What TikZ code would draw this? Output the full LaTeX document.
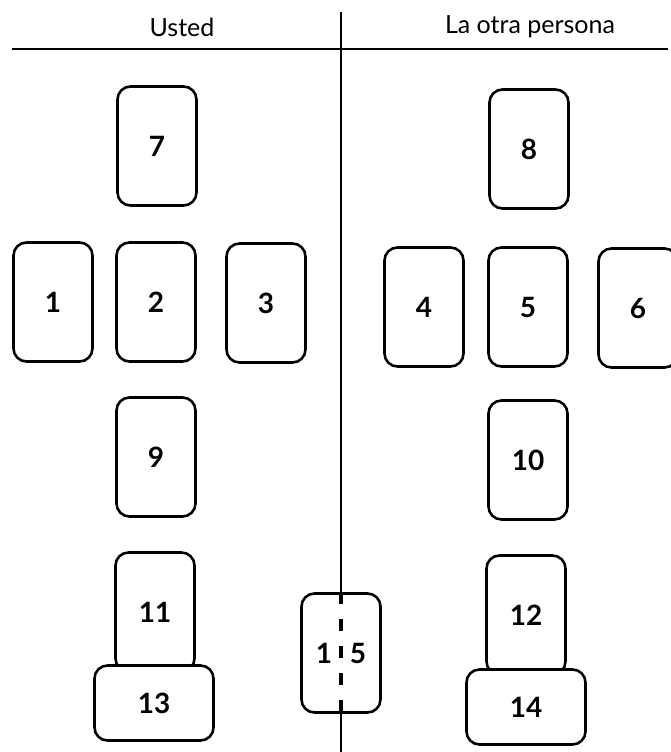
\documentclass[tikz,border=0pt]{standalone}
\usepackage{fontspec}
\setmainfont{Lato}
\usetikzlibrary{positioning}

\begin{document}
\begin{tikzpicture}[x=1pt, y=-1pt,
    card/.style={draw, line width=2.6pt, rounded corners=13pt, fill=white,
      minimum width=79pt, minimum height=119pt, inner sep=0pt,
      font=\fontsize{28}{32}\selectfont\bfseries},
    wide/.style={card, minimum width=119pt, minimum height=75pt},
    rule/.style={line width=2pt},
    head/.style={font=\fontsize{25}{29}\selectfont}]
  \useasboundingbox (0,0) rectangle (670,752);

  % headings and the two halves
  \coordinate (top) at (341,12);
  \coordinate (bot) at (341,752);
  \coordinate (hl) at (12,49);
  \coordinate (hr) at (668,49);
  \draw[rule] (hl) -- (hr);
  \node[head] (usted) at (182,27) {Usted};
  \node[head] (otra) at (530,27) {La otra persona};

  % Usted
  \node[card] (c7) at (157,146) {7};
  \node[card] (c1) at (53,302) {1};
  \node[card] (c2) at (156,302) {2};
  \node[card] (c3) at (266,303) {3};
  \node[card] (c9) at (156,457) {9};
  \node[card] (c11) at (155,612) {11};
  \node[wide] (c13) at (154,703) {13};

  % la otra persona
  \node[card] (c8) at (529,149) {8};
  \node[card] (c4) at (424,307) {4};
  \node[card] (c5) at (528,307) {5};
  \node[card] (c6) at (638,308) {6};
  \node[card] (c10) at (528,460) {10};
  \node[card] (c12) at (526,615) {12};
  \node[wide] (c14) at (526,707) {14};

  % card 15 on the line
  \node[card] (c15) at (341,653) {1\hspace{18pt}5};
  \draw[rule] (top) -- (c15.north);
  \draw[line width=3.5pt, dash pattern=on 12pt off 15pt] (c15.north) -- (c15.south);
  \draw[rule] (c15.south) -- (bot);
\end{tikzpicture}
\end{document}
